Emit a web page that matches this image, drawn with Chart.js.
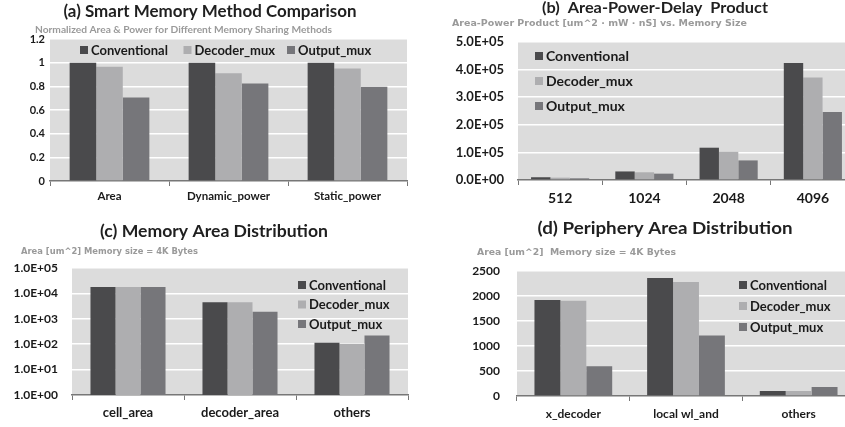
<!DOCTYPE html>
<html>
<head>
<meta charset="utf-8">
<script src="https://cdn.jsdelivr.net/npm/chart.js@4.4.1/dist/chart.umd.min.js"></script>
<style>
  html, body { margin:0; padding:0; background:#fff; overflow:hidden; }
  .pane { position:absolute; }
</style>
</head>
<body>
<div class="pane" style="left:0;top:0;width:420px;height:210px"><canvas id="cA"></canvas></div>
<div class="pane" style="left:420px;top:0;width:435px;height:210px"><canvas id="cB"></canvas></div>
<div class="pane" style="left:0;top:210px;width:420px;height:217px"><canvas id="cC"></canvas></div>
<div class="pane" style="left:420px;top:210px;width:435px;height:217px"><canvas id="cD"></canvas></div>
<script>
// ─── Data ────────────────────────────────────────────────────────────────────
const SERIES = ['Conventional', 'Decoder_mux', 'Output_mux'];

// (a) normalized area & power
const catsA = ['Area', 'Dynamic_power', 'Static_power'];
const convA = [1, 1, 1];
const decA  = [0.965, 0.91, 0.95];
const outA  = [0.705, 0.823, 0.797];
const ticksA = [0, 0.2, 0.4, 0.6, 0.8, 1, 1.2];

// (b) area-power-delay product vs memory size
const catsB = ['512', '1024', '2048', '4096'];
const convB = [10000, 31000, 117000, 424000];
const decB  = [8500, 28000, 102000, 371000];
const outB  = [6000, 23000, 71000, 246000];
const ticksB = [0, 100000, 200000, 300000, 400000, 500000];

// (c) memory area distribution (log)
const catsC = ['cell_area', 'decoder_area', 'others'];
const convC = [18000, 4500, 115];
const decC  = [18000, 4500, 103];
const outC  = [18000, 1900, 220];
const ticksC = [1, 10, 100, 1000, 10000, 100000];

// (d) periphery area distribution
const catsD = ['x_decoder', 'local wl_and', 'others'];
const convD = [1920, 2360, 100];
const decD  = [1905, 2280, 100];
const outD  = [595, 1210, 180];
const ticksD = [0, 500, 1000, 1500, 2000, 2500];

// ─── Style ───────────────────────────────────────────────────────────────────
const COL = ['#4a4a4c', '#aeaeb0', '#76767a'];
const FONT = "Lato, 'Liberation Sans', sans-serif";
const SUBFONT = "'DejaVu Sans', sans-serif";
const PLOT_BG = '#dcdcdc';
const AXIS = '#777777';

Chart.defaults.font.family = FONT;
Chart.defaults.font.weight = 'bold';
Chart.defaults.color = '#1a1a1a';
Chart.defaults.animation = false;

const fmtE = v => {
  const s = Number(v).toExponential(1).toUpperCase();
  return s.replace(/E([+-])(\d)$/, 'E$10$2');
};

// text squeezed/stretched horizontally to a given width
function fitText(ctx, text, x, y, w, align) {
  const m = ctx.measureText(text).width;
  const k = w / m;
  ctx.save();
  ctx.translate(align === 'center' ? x - w / 2 : x, y);
  ctx.scale(k, 1);
  ctx.textAlign = 'left';
  ctx.fillText(text, 0, 0);
  ctx.restore();
}

// plot background + titles + in-area legend
const panelPlugin = {
  id: 'panel',
  beforeDraw(chart, args, o) {
    const { ctx, chartArea: a } = chart;
    ctx.save();
    ctx.fillStyle = PLOT_BG;
    ctx.fillRect(a.left, a.top, a.right - a.left, a.bottom - a.top);
    ctx.restore();
  },
  afterDraw(chart, args, o) {
    const ctx = chart.ctx;
    ctx.save();
    ctx.textBaseline = 'middle';
    ctx.fillStyle = '#1f1f1f';
    ctx.font = `bold ${o.titleSize}px ${FONT}`;
    fitText(ctx, o.title, o.tx, o.ty, o.tw, 'center');
    ctx.fillStyle = '#9a9a9a';
    ctx.font = `bold ${o.subSize}px ${o.subFont || FONT}`;
    fitText(ctx, o.sub, o.sx, o.sy, o.sw, 'left');
    // legend
    const L = o.legend;
    ctx.font = `bold ${L.size}px ${FONT}`;
    ctx.textAlign = 'left';
    chart.data.datasets.forEach((ds, i) => {
      const x = L.x + i * L.dx, y = L.y + i * L.dy;
      ctx.fillStyle = ds.backgroundColor;
      ctx.fillRect(x, y - L.box / 2, L.box, L.box);
      ctx.fillStyle = '#1a1a1a';
      ctx.fillText(ds.label, x + L.box + 3, y + 0.5);
    });
    ctx.restore();
  }
};

function makePanel(id, cats, vals, cfg) {
  const ctx = document.getElementById(id);
  new Chart(ctx, {
    type: 'bar',
    data: {
      labels: cats,
      datasets: vals.map((d, i) => ({
        label: SERIES[i], data: d, backgroundColor: COL[i],
        categoryPercentage: cfg.catPct, barPercentage: 1.0, borderWidth: 0
      }))
    },
    options: {
      responsive: true, maintainAspectRatio: false,
      layout: { padding: { top: cfg.top, right: cfg.right, left: 0, bottom: 0 } },
      plugins: { legend: { display: false }, tooltip: { enabled: false }, panel: cfg.panel },
      scales: {
        x: {
          grid: { display: true, drawOnChartArea: false, drawTicks: true, tickLength: 5, color: AXIS, offset: true },
          border: { display: true, color: AXIS, width: 1.5 },
          ticks: { font: { size: cfg.xSize, weight: 'bold' }, padding: cfg.xPad, color: '#1a1a1a' },
          afterFit: s => { s.height = cfg.xH; }
        },
        y: Object.assign({
          min: cfg.ticks[0], max: cfg.ticks[cfg.ticks.length - 1],
          grid: {
            drawTicks: false, lineWidth: 1.5,
            color: c => (c.index === 0 ? 'rgba(0,0,0,0)' : '#ffffff')
          },
          border: { display: false },
          ticks: { font: { size: cfg.ySize, weight: 'bold' }, padding: cfg.yPad, color: '#1a1a1a', callback: cfg.fmt },
          afterBuildTicks: s => { s.ticks = cfg.ticks.map(v => ({ value: v })); },
          afterFit: s => { s.width = cfg.yW; }
        }, cfg.yType ? { type: cfg.yType } : {})
      }
    },
    plugins: [panelPlugin]
  });
}

makePanel('cA', catsA, [convA, decA, outA], {
  catPct: 0.67, top: 39, right: 13, xH: 29, yW: 50, xSize: 11.5, ySize: 11, xPad: 3, yPad: 5,
  ticks: ticksA, fmt: v => String(v),
  panel: { title: '(a) Smart Memory Method Comparison', titleSize: 17, tx: 210, ty: 12, tw: 293,
    sub: 'Normalized Area & Power for Different Memory Sharing Methods', subSize: 9.5, sx: 35, sy: 30, sw: 297,
    legend: { x: 80, y: 50, dx: 103.5, dy: 0, box: 8, size: 13 } }
});

makePanel('cB', catsB, [convB, decB, outB], {
  catPct: 0.69, top: 42, right: 0, xH: 30, yW: 98, xSize: 14, ySize: 13, xPad: 5, yPad: 14,
  ticks: ticksB, fmt: fmtE,
  panel: { title: '(b)  Area-Power-Delay  Product', titleSize: 16, tx: 235, ty: 8, tw: 226,
    sub: 'Area-Power Product [um^2 \u00b7 mW \u00b7 nS] vs. Memory Size', subSize: 9.5, subFont: SUBFONT, sx: 32, sy: 24, sw: 295,
    legend: { x: 115, y: 56, dx: 0, dy: 25, box: 8, size: 14 } }
});

makePanel('cC', catsC, [convC, decC, outC], {
  catPct: 0.67, top: 58, right: 12, xH: 32, yW: 72, xSize: 13, ySize: 12, xPad: 5, yPad: 14,
  ticks: ticksC, fmt: fmtE, yType: 'logarithmic',
  panel: { title: '(c) Memory Area Distribution', titleSize: 17, tx: 214, ty: 22, tw: 228,
    sub: 'Area [um^2] Memory size = 4K Bytes', subSize: 9, subFont: SUBFONT, sx: 21, sy: 42, sw: 177,
    legend: { x: 298, y: 75, dx: 0, dy: 19.5, box: 8, size: 13 } }
});

makePanel('cD', catsD, [convD, decD, outD], {
  catPct: 0.69, top: 61, right: 0, xH: 31, yW: 97, xSize: 12, ySize: 12, xPad: 6, yPad: 17,
  ticks: ticksD, fmt: v => String(v),
  panel: { title: '(d) Periphery Area Distribution', titleSize: 17, tx: 245, ty: 19, tw: 255,
    sub: 'Area [um^2]  Memory size = 4K Bytes', subSize: 9.5, subFont: SUBFONT, sx: 57, sy: 43, sw: 199,
    legend: { x: 319, y: 75, dx: 0, dy: 21, box: 8, size: 13 } }
});
</script>
</body>
</html>
